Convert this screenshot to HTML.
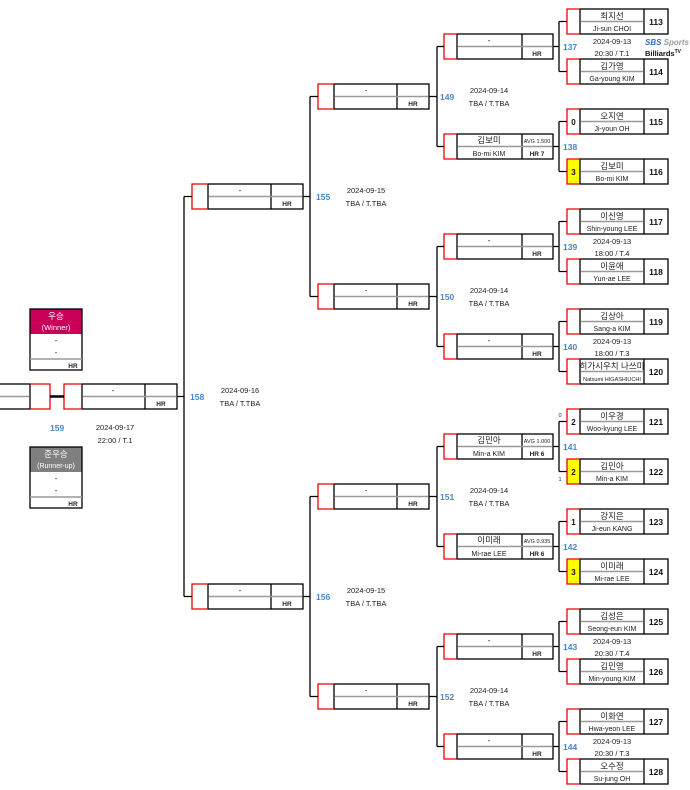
<!DOCTYPE html>
<html><head><meta charset="utf-8"><style>
html,body{margin:0;padding:0;background:#fff;width:690px;height:790px;overflow:hidden}
svg{display:block}
text{font-family:"Liberation Sans","Noto Sans CJK KR",sans-serif;}
.k{font-size:8.5px;fill:#222;text-anchor:middle}
.e{font-size:7px;fill:#222;text-anchor:middle}
.n{font-size:8.5px;fill:#111;text-anchor:middle;font-weight:bold}
.s{font-size:8px;fill:#111;text-anchor:middle;font-weight:bold}
.h{font-size:6.5px;fill:#222;text-anchor:middle;font-weight:bold}
.a{font-size:5.5px;fill:#222;text-anchor:middle}
.d{font-size:7.5px;fill:#222;text-anchor:middle}
.l{font-size:8.5px;fill:#4a86c8;font-weight:bold}
.b{fill:none;stroke:#000;stroke-width:1.3}
.r{fill:none;stroke:#e00;stroke-width:1.3}
.g{stroke:#999;stroke-width:1.5}
.c{stroke:#000;stroke-width:1.3;fill:none}
</style></head><body>
<svg width="690" height="790" viewBox="0 0 690 790" xmlns="http://www.w3.org/2000/svg">
<defs>
<g id="r1"><rect x="13" y="0" width="88" height="25" class="b"/><line x1="77" y1="0" x2="77" y2="25" class="b"/><line x1="14" y1="12.5" x2="76" y2="12.5" class="g"/><polyline points="13,0 0,0 0,25 13,25" class="r"/></g>
<g id="r2"><rect x="13" y="0" width="96" height="25" class="b"/><line x1="78" y1="0" x2="78" y2="25" class="b"/><line x1="14" y1="12.5" x2="108" y2="12.5" class="g"/><polyline points="13,0 0,0 0,25 13,25" class="r"/></g>
<g id="r3"><rect x="16" y="0" width="95" height="25" class="b"/><line x1="79" y1="0" x2="79" y2="25" class="b"/><line x1="17" y1="12.5" x2="110" y2="12.5" class="g"/><polyline points="16,0 0,0 0,25 16,25" class="r"/></g>
<g id="r5"><rect x="18" y="0" width="95" height="25" class="b"/><line x1="81" y1="0" x2="81" y2="25" class="b"/><line x1="19" y1="12.5" x2="112" y2="12.5" class="g"/><polyline points="18,0 0,0 0,25 18,25" class="r"/></g>
</defs>

<!-- yellow score cells -->
<rect x="567" y="159" width="13" height="25" fill="#ffff00"/>
<rect x="567" y="459" width="13" height="25" fill="#ffff00"/>
<rect x="567" y="559" width="13" height="25" fill="#ffff00"/>

<!-- Round 1 boxes -->
<use href="#r1" x="567" y="9"/><use href="#r1" x="567" y="59"/><use href="#r1" x="567" y="109"/><use href="#r1" x="567" y="159"/>
<use href="#r1" x="567" y="209"/><use href="#r1" x="567" y="259"/><use href="#r1" x="567" y="309"/><use href="#r1" x="567" y="359"/>
<use href="#r1" x="567" y="409"/><use href="#r1" x="567" y="459"/><use href="#r1" x="567" y="509"/><use href="#r1" x="567" y="559"/>
<use href="#r1" x="567" y="609"/><use href="#r1" x="567" y="659"/><use href="#r1" x="567" y="709"/><use href="#r1" x="567" y="759"/>

<g>
<text class="k" x="612" y="19">최지선</text><text class="e" x="612" y="31">Ji-sun CHOI</text><text class="n" x="656" y="25">113</text>
<text class="k" x="612" y="69">김가영</text><text class="e" x="612" y="81">Ga-young KIM</text><text class="n" x="656" y="75">114</text>
<text class="k" x="612" y="119">오지연</text><text class="e" x="612" y="131">Ji-youn OH</text><text class="n" x="656" y="125">115</text><text class="s" x="573.5" y="125">0</text>
<text class="k" x="612" y="169">김보미</text><text class="e" x="612" y="181">Bo-mi KIM</text><text class="n" x="656" y="175">116</text><text class="s" x="573.5" y="175">3</text>
<text class="k" x="612" y="219">이신영</text><text class="e" x="612" y="231">Shin-young LEE</text><text class="n" x="656" y="225">117</text>
<text class="k" x="612" y="269">이윤애</text><text class="e" x="612" y="281">Yun-ae LEE</text><text class="n" x="656" y="275">118</text>
<text class="k" x="612" y="319">김상아</text><text class="e" x="612" y="331">Sang-a KIM</text><text class="n" x="656" y="325">119</text>
<text class="k" x="612" y="369">히가시우치 나쓰미</text><text class="e" x="612" y="381" style="font-size:5.5px">Natsumi HIGASHIUCHI</text><text class="n" x="656" y="375">120</text>
<text class="k" x="612" y="419">이우경</text><text class="e" x="612" y="431">Woo-kyung LEE</text><text class="n" x="656" y="425">121</text><text class="s" x="573.5" y="425">2</text>
<text class="k" x="612" y="469">김민아</text><text class="e" x="612" y="481">Min-a KIM</text><text class="n" x="656" y="475">122</text><text class="s" x="573.5" y="475">2</text>
<text class="k" x="612" y="519">강지은</text><text class="e" x="612" y="531">Ji-eun KANG</text><text class="n" x="656" y="525">123</text><text class="s" x="573.5" y="525">1</text>
<text class="k" x="612" y="569">이미래</text><text class="e" x="612" y="581">Mi-rae LEE</text><text class="n" x="656" y="575">124</text><text class="s" x="573.5" y="575">3</text>
<text class="k" x="612" y="619">김성은</text><text class="e" x="612" y="631">Seong-eun KIM</text><text class="n" x="656" y="625">125</text>
<text class="k" x="612" y="669">김민영</text><text class="e" x="612" y="681">Min-young KIM</text><text class="n" x="656" y="675">126</text>
<text class="k" x="612" y="719">이화연</text><text class="e" x="612" y="731">Hwa-yeon LEE</text><text class="n" x="656" y="725">127</text>
<text class="k" x="612" y="769">오수정</text><text class="e" x="612" y="781">Su-jung OH</text><text class="n" x="656" y="775">128</text>
<text class="a" x="560" y="417">0</text><text class="a" x="560" y="481">1</text>
</g>

<!-- SBS logo -->
<text x="645" y="45" style="font-size:8px;font-weight:bold;fill:#3a6fc4;font-style:italic">SBS <tspan fill="#999">Sports</tspan></text>
<text x="645" y="56" style="font-size:7.5px;font-weight:bold;fill:#111">Billiards<tspan font-size="5" dy="-3">TV</tspan></text>

<!-- R1->R2 connectors -->
<path class="c" d="M559,21.5V71.5M559,21.5H567M559,71.5H567M553,46.5H559
M559,121.5V171.5M559,121.5H567M559,171.5H567M553,146.5H559
M559,221.5V271.5M559,221.5H567M559,271.5H567M553,246.5H559
M559,321.5V371.5M559,321.5H567M559,371.5H567M553,346.5H559
M559,421.5V471.5M559,421.5H567M559,471.5H567M553,446.5H559
M559,521.5V571.5M559,521.5H567M559,571.5H567M553,546.5H559
M559,621.5V671.5M559,621.5H567M559,671.5H567M553,646.5H559
M559,721.5V771.5M559,721.5H567M559,771.5H567M553,746.5H559"/>

<!-- Round 2 boxes -->
<use href="#r2" x="444" y="34"/><use href="#r2" x="444" y="134"/><use href="#r2" x="444" y="234"/><use href="#r2" x="444" y="334"/>
<use href="#r2" x="444" y="434"/><use href="#r2" x="444" y="534"/><use href="#r2" x="444" y="634"/><use href="#r2" x="444" y="734"/>
<g>
<text class="k" x="489" y="43">-</text><text class="h" x="537" y="56">HR</text>
<text class="k" x="489" y="143">김보미</text><text class="e" x="489" y="156">Bo-mi KIM</text><text class="a" x="537" y="143">AVG 1.500</text><text class="h" x="537" y="156">HR 7</text>
<text class="k" x="489" y="243">-</text><text class="h" x="537" y="256">HR</text>
<text class="k" x="489" y="343">-</text><text class="h" x="537" y="356">HR</text>
<text class="k" x="489" y="443">김민아</text><text class="e" x="489" y="456">Min-a KIM</text><text class="a" x="537" y="443">AVG 1.000</text><text class="h" x="537" y="456">HR 6</text>
<text class="k" x="489" y="543">이미래</text><text class="e" x="489" y="556">Mi-rae LEE</text><text class="a" x="537" y="543">AVG 0.935</text><text class="h" x="537" y="556">HR 6</text>
<text class="k" x="489" y="643">-</text><text class="h" x="537" y="656">HR</text>
<text class="k" x="489" y="743">-</text><text class="h" x="537" y="756">HR</text>
</g>
<g>
<text class="l" x="563" y="50">137</text><text class="l" x="563" y="150">138</text><text class="l" x="563" y="250">139</text><text class="l" x="563" y="350">140</text>
<text class="l" x="563" y="450">141</text><text class="l" x="563" y="550">142</text><text class="l" x="563" y="650">143</text><text class="l" x="563" y="750">144</text>
<text class="d" x="612" y="44">2024-09-13</text><text class="d" x="612" y="56">20:30 / T.1</text>
<text class="d" x="612" y="244">2024-09-13</text><text class="d" x="612" y="256">18:00 / T.4</text>
<text class="d" x="612" y="344">2024-09-13</text><text class="d" x="612" y="356">18:00 / T.3</text>
<text class="d" x="612" y="644">2024-09-13</text><text class="d" x="612" y="656">20:30 / T.4</text>
<text class="d" x="612" y="744">2024-09-13</text><text class="d" x="612" y="756">20:30 / T.3</text>
</g>

<!-- R2->R3 connectors -->
<path class="c" d="M437,46.5V146.5M437,46.5H444M437,146.5H444M429,96.5H437
M437,246.5V346.5M437,246.5H444M437,346.5H444M429,296.5H437
M437,446.5V546.5M437,446.5H444M437,546.5H444M429,496.5H437
M437,646.5V746.5M437,646.5H444M437,746.5H444M429,696.5H437"/>

<!-- Round 3 -->
<use href="#r3" x="318" y="84"/><use href="#r3" x="318" y="284"/><use href="#r3" x="318" y="484"/><use href="#r3" x="318" y="684"/>
<g>
<text class="k" x="366" y="93">-</text><text class="h" x="413" y="106">HR</text>
<text class="k" x="366" y="293">-</text><text class="h" x="413" y="306">HR</text>
<text class="k" x="366" y="493">-</text><text class="h" x="413" y="506">HR</text>
<text class="k" x="366" y="693">-</text><text class="h" x="413" y="706">HR</text>
<text class="l" x="440" y="100">149</text><text class="l" x="440" y="300">150</text><text class="l" x="440" y="500">151</text><text class="l" x="440" y="700">152</text>
<text class="d" x="489" y="93">2024-09-14</text><text class="d" x="489" y="106">TBA / T.TBA</text>
<text class="d" x="489" y="293">2024-09-14</text><text class="d" x="489" y="306">TBA / T.TBA</text>
<text class="d" x="489" y="493">2024-09-14</text><text class="d" x="489" y="506">TBA / T.TBA</text>
<text class="d" x="489" y="693">2024-09-14</text><text class="d" x="489" y="706">TBA / T.TBA</text>
</g>

<!-- R3->R4 connectors -->
<path class="c" d="M310,96.5V296.5M310,96.5H318M310,296.5H318M303,196.5H310
M310,496.5V696.5M310,496.5H318M310,696.5H318M303,596.5H310"/>

<!-- Round 4 -->
<use href="#r3" x="192" y="184"/><use href="#r3" x="192" y="584"/>
<g>
<text class="k" x="240" y="193">-</text><text class="h" x="287" y="206">HR</text>
<text class="k" x="240" y="593">-</text><text class="h" x="287" y="606">HR</text>
<text class="l" x="316" y="200">155</text><text class="l" x="316" y="600">156</text>
<text class="d" x="366" y="193">2024-09-15</text><text class="d" x="366" y="206">TBA / T.TBA</text>
<text class="d" x="366" y="593">2024-09-15</text><text class="d" x="366" y="606">TBA / T.TBA</text>
</g>

<!-- R4->R5 -->
<path class="c" d="M184,196.5V596.5M184,196.5H192M184,596.5H192M177,396.5H184"/>

<!-- Round 5 -->
<use href="#r5" x="64" y="384"/>
<text class="k" x="113" y="393">-</text><text class="h" x="161" y="406">HR</text>
<text class="l" x="190" y="400">158</text>
<text class="d" x="240" y="393">2024-09-16</text><text class="d" x="240" y="406">TBA / T.TBA</text>

<!-- Final -->
<rect x="-2" y="384" width="32" height="25" class="b"/>
<line x1="0" y1="396.5" x2="29" y2="396.5" class="g"/>
<polyline points="30,384 50,384 50,409 30,409" class="r"/>
<line x1="50" y1="396.5" x2="64" y2="396.5" stroke="#000" stroke-width="2.5"/>
<text class="l" x="50" y="431">159</text>
<text class="d" x="115" y="430">2024-09-17</text><text class="d" x="115" y="443">22:00 / T.1</text>

<!-- Winner -->
<rect x="30" y="309" width="52" height="25" fill="#c8005a"/>
<text x="56" y="319" style="font-size:8.5px;fill:#fff;text-anchor:middle">우승</text>
<text x="56" y="330" style="font-size:7.5px;fill:#fff;text-anchor:middle">(Winner)</text>
<rect x="30" y="309" width="52" height="61" class="b"/>
<line x1="30" y1="359" x2="82" y2="359" class="g"/>
<text class="k" x="56" y="343">-</text><text class="k" x="56" y="355">-</text>
<text class="h" x="73" y="368">HR</text>

<!-- Runner-up -->
<rect x="30" y="447" width="52" height="25" fill="#7f7f7f"/>
<text x="56" y="457" style="font-size:8.5px;fill:#fff;text-anchor:middle">준우승</text>
<text x="56" y="468" style="font-size:7px;fill:#fff;text-anchor:middle">(Runner-up)</text>
<rect x="30" y="447" width="52" height="61" class="b"/>
<line x1="30" y1="497" x2="82" y2="497" class="g"/>
<text class="k" x="56" y="481">-</text><text class="k" x="56" y="493">-</text>
<text class="h" x="73" y="506">HR</text>
</svg>
</body></html>
